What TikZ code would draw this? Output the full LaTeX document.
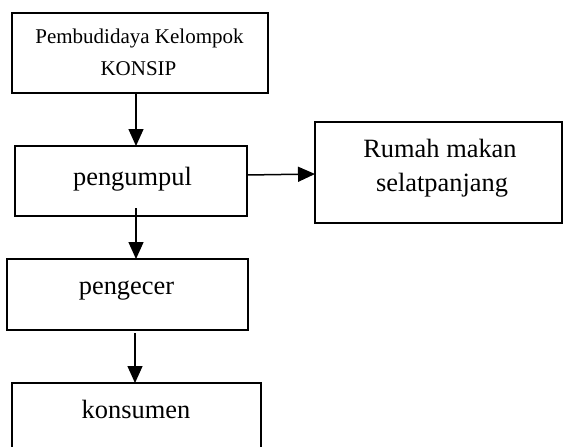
\documentclass[tikz,border=0pt]{standalone}
\usepackage{fontspec}
\setmainfont{Liberation Serif}
\usetikzlibrary{arrows.meta}
\tikzset{
  box/.style={draw=black, line width=1.5pt, inner sep=0pt, outer sep=0pt, fill=none},
  big/.style={anchor=base, inner sep=0pt, font=\fontsize{26.4}{34}\selectfont},
  small/.style={anchor=base, inner sep=0pt, font=\fontsize{21}{30}\selectfont},
  arr/.style={line width=1.5pt, -{Triangle[length=17pt,width=15pt]}}
}
\begin{document}
\begin{tikzpicture}[x=1pt,y=-1pt]
\useasboundingbox (0,0) rectangle (563,447);
\clip (0,0) rectangle (563,447);
\fill[white] (0,0) rectangle (563,447);
% boxes
\node[box, minimum width=256pt, minimum height=80pt] (b1) at (140,53) {};
\node[box, minimum width=232pt, minimum height=70pt] (b2) at (131,181) {};
\node[box, minimum width=241pt, minimum height=71pt] (b3) at (127.5,294.5) {};
\node[box, minimum width=249pt, minimum height=96pt] (b4) at (136.5,431) {};
\node[box, minimum width=247pt, minimum height=101pt] (b5) at (438.5,172.5) {};
% texts
\node[small] (t1a) at (139.5,43.5) {Pembudidaya Kelompok};
\node[small] (t1b) at (138.5,75) {KONSIP};
\node[big] (t2) at (132.5,185) {pengumpul};
\node[big] (t3) at (126.5,294) {pengecer};
\node[big] (t4) at (136,418) {konsumen};
\node[big] (t5a) at (440,157) {Rumah makan};
\node[big] (t5b) at (442,191) {selatpanjang};
% arrows
\draw[arr] ([xshift=-4pt]b1.south) -- ([xshift=5pt]b2.north);
\draw[arr] ([xshift=5pt,yshift=8pt]b2.south) -- ([xshift=8.5pt]b3.north);
\draw[arr] ([xshift=7.5pt,yshift=-3pt]b3.south) -- ([xshift=-1.5pt]b4.north);
\draw[arr] ([yshift=6pt]b2.east) -- ([yshift=-1.5pt]b5.west);
\end{tikzpicture}
\end{document}
